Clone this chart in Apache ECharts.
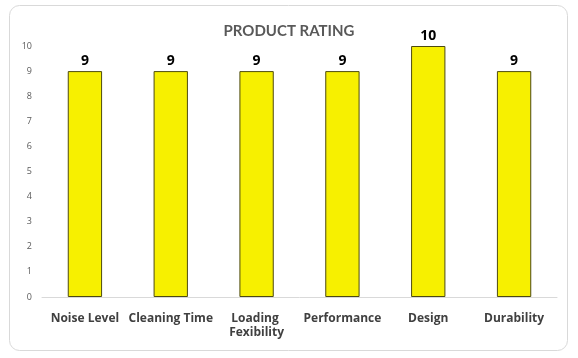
<!DOCTYPE html>
<html><head><meta charset="utf-8">
<script src="https://cdn.jsdelivr.net/npm/echarts@6/dist/echarts.min.js"></script>
<style>html,body{margin:0;padding:0;background:#fff}#c{width:578px;height:358px}</style>
</head><body><div id="c"></div>
<script>
const categories = ["Noise Level", "Cleaning Time", "Loading Fexibility", "Performance", "Design", "Durability"];
const ratings = [9, 9, 9, 9, 10, 9];
const yTicks = [0, 1, 2, 3, 4, 5, 6, 7, 8, 9, 10];

const chart = echarts.init(document.getElementById('c'), null, {renderer: 'canvas'});
chart.setOption({
  animation: false,
  backgroundColor: '#ffffff',
  graphic: [{
    type: 'rect', z: -10, silent: true,
    shape: {x: 9.5, y: 5.5, width: 558, height: 345, r: 10},
    style: {fill: '#ffffff', stroke: '#d9d9d9', lineWidth: 1}
  }],
  title: {
    text: 'PRODUCT RATING', left: 'center', top: 19,
    textStyle: {fontFamily: 'Lato', fontWeight: 'bold', fontSize: 15, color: '#595959'}
  },
  grid: {left: 42, right: 21, top: 46, bottom: 61},
  xAxis: {
    type: 'category', data: categories,
    axisLine: {lineStyle: {color: '#d9d9d9'}},
    axisTick: {show: false},
    axisLabel: {interval: 0, margin: 15, width: 86, overflow: 'break', lineHeight: 14,
      fontFamily: 'Open Sans', fontWeight: 'bold', fontSize: 12, color: '#404040'}
  },
  yAxis: {
    type: 'value', min: yTicks[0], max: yTicks[yTicks.length - 1], interval: 1,
    axisLine: {show: false}, axisTick: {show: false}, splitLine: {show: false},
    axisLabel: {margin: 10, fontFamily: 'Open Sans', fontSize: 9, color: '#595959'}
  },
  series: [{
    type: 'bar', data: ratings, barWidth: '40%',
    itemStyle: {color: '#f7f000', borderColor: '#4d4a10', borderWidth: 1},
    label: {show: true, position: 'top', distance: 3,
      fontFamily: 'Open Sans', fontWeight: 'bold', fontSize: 14, color: '#000'}
  }]
});
</script></body></html>
